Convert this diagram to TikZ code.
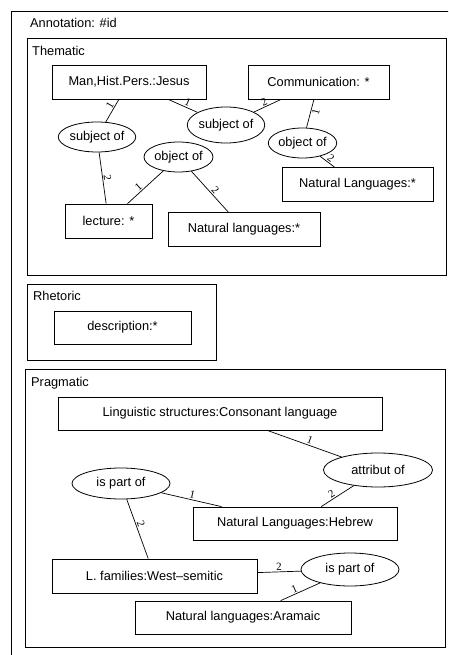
\documentclass[tikz,border=0pt]{standalone}
\usepackage{fontspec}
\setmainfont{Liberation Sans}
\newfontfamily\numfont{Liberation Serif}
\usetikzlibrary{shapes.geometric, positioning}

\begin{document}
\begin{tikzpicture}[x=1pt, y=-1pt,
  font=\fontsize{12.8}{15}\selectfont,
  box/.style={draw, rectangle, line width=0.8pt, inner sep=0pt, minimum height=34pt, align=center},
  rel/.style={draw, ellipse, line width=0.8pt, inner sep=0pt, minimum height=31pt},
  frame/.style={draw, line width=0.8pt},
  title/.style={anchor=base west, inner sep=0pt},
  link/.style={line width=0.7pt},
  num/.style={font=\numfont\fontsize{11}{12}\selectfont, sloped, inner sep=1pt}
]
\useasboundingbox (0,0) rectangle (448,655);
\clip (0,0) rectangle (448,655);

% Frames
\draw[frame] (11,11) rectangle (470,680);
\draw[frame] (27,38) rectangle (446,275);
\draw[frame] (27,284) rectangle (216,360);
\draw[frame] (25,369) rectangle (445,647);

\node[title] (ann) at (30,28) {Annotation: \#id};
\node[title] (them) at (32,56) {Thematic};
\node[title] (rhet) at (33,300) {Rhetoric};
\node[title] (prag) at (31,386) {Pragmatic};

% Thematic
\node[box, minimum width=154pt] (jesus) at (129,82) {Man,Hist.Pers.:Jesus};
\node[box, minimum width=141pt] (comm) at (318.5,82) {Communication: *};
\node[box, minimum width=151pt] (natstar) at (357.5,184.5) {Natural Languages:*};
\node[box, minimum width=87pt] (lecture) at (108.5,221) {lecture: *};
\node[box, minimum width=152pt] (natlow) at (244,229.5) {Natural languages:*};

\node[rel, minimum width=65pt, minimum height=30pt] (subjl) at (97,137) {subject of};
\node[rel, minimum width=66pt, minimum height=36pt] (subjm) at (226,125) {subject of};
\node[rel, minimum width=69pt, minimum height=30pt] (objm) at (178.5,157) {object of};
\node[rel, minimum width=67pt, minimum height=30pt] (objr) at (302.5,143) {object of};

\draw[link] (jesus) -- node[num, above, pos=0.35] (t1) {1} (subjl);
\draw[link] (jesus) -- node[num, above, pos=0.6] (t2) {1} (subjm);
\draw[link] (comm) -- node[num, above, pos=0.55] (t3) {2} (subjm);
\draw[link] (comm) -- node[num, below, pos=0.4] (t4) {1} (objr);
\draw[link] (objr) -- node[num, above, pos=0.55] (t5) {2} (natstar);
\draw[link] (subjl) -- node[num, above, pos=0.5] (t6) {2} (lecture);
\draw[link] (objm) -- node[num, above, pos=0.6] (t7) {1} (lecture);
\draw[link] (objm) -- node[num, above, pos=0.55] (t8) {2} (natlow);

% Rhetoric
\node[box, minimum width=137pt, minimum height=33pt] (descr) at (122.5,327.5) {description:*};

% Pragmatic
\node[box, minimum width=324pt, minimum height=33pt] (ling) at (220,413.5) {Linguistic structures:Consonant language};
\node[box, minimum width=204pt, minimum height=33pt] (hebrew) at (295,523.5) {Natural Languages:Hebrew};
\node[box, minimum width=205pt] (west) at (154.5,576) {L. families:West\textendash semitic};
\node[box, minimum width=216pt, minimum height=33pt] (aramaic) at (243,617.5) {Natural languages:Aramaic};

\node[rel, minimum width=109pt, minimum height=34pt] (attr) at (378,470) {attribut of};
\node[rel, minimum width=98pt] (partl) at (121,483.5) {is part of};
\node[rel, minimum width=98pt, minimum height=33pt] (partr) at (350,569.5) {is part of};

\draw[link] (ling) -- node[num, above, pos=0.55] (p1) {1} (attr);
\draw[link] (attr) -- node[num, above, pos=0.6] (p2) {2} (hebrew);
\draw[link] (partl) -- node[num, above, pos=0.5] (p3) {1} (hebrew);
\draw[link] (partl) -- node[num, above, pos=0.45] (p4) {2} (west);
\draw[link] (west) -- node[num, above, pos=0.5] (p5) {2} (partr);
\draw[link] (partr) -- node[num, above, pos=0.6] (p6) {1} (aramaic);

\end{tikzpicture}
\end{document}
